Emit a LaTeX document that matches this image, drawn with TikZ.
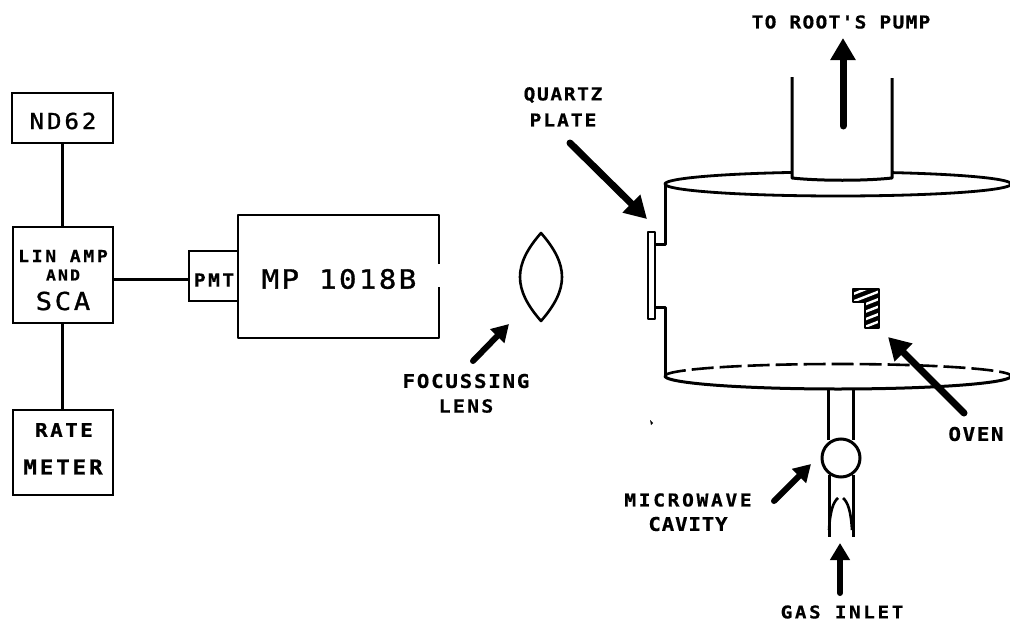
\documentclass[tikz,border=0pt]{standalone}
\usepackage{fontspec}
\usetikzlibrary{arrows.meta}
\newfontfamily\plotb[FakeStretch=1.1,FakeBold=0.6]{DejaVu Sans Mono Bold}
\newfontfamily\plotr[FakeStretch=1.1,FakeBold=1.2]{DejaVu Sans Mono}
\newcommand\pb[2]{\plotb\fontsize{#1}{#1}\selectfont\addfontfeatures{LetterSpace=#2}}
\newcommand\pr[2]{\plotr\fontsize{#1}{#1}\selectfont\addfontfeatures{LetterSpace=#2}}
\tikzset{
  line/.style={line width=2.6pt,line join=round,black},
  wire/.style={line width=3pt,black},
  blockbox/.style={draw,line width=2.6pt,inner sep=0pt,outer sep=0pt,rectangle,anchor=north west},
  txt/.style={inner sep=0pt,outer sep=0pt,black,anchor=center},
  bigarrow/.style={line width=7pt,black,line cap=round,-{Triangle[length=22pt,width=24pt]}},
  midarrow/.style={line width=6pt,black,line cap=round,-{Triangle[length=17pt,width=19pt]}},
}
\begin{document}
\begin{tikzpicture}[x=1pt,y=-1pt]
\useasboundingbox (0,0) rectangle (1010,621);
% electronics boxes
\node[blockbox,minimum width=101pt,minimum height=50pt] (nd) at (12,93) {};
\node[blockbox,minimum width=100pt,minimum height=96pt] (amp) at (13,227) {};
\node[blockbox,minimum width=100pt,minimum height=85pt] (rate) at (13,410) {};
\node[blockbox,minimum width=49pt,minimum height=50pt] (pmt) at (189,251) {};
\coordinate (ndb) at (62,143);
\coordinate (ampt) at (62,227);
\coordinate (ampb) at (62,323);
\coordinate (ratet) at (62,410);
\coordinate (ampr) at (113,279);
\coordinate (pmtl) at (189,279);
\draw[wire] (ndb) -- (ampt);
\draw[wire] (ampb) -- (ratet);
\draw[wire] (ampr) -- (pmtl);
\node[txt,font=\pr{22}{13}] (ndt) at (63,121) {ND62};
\node[txt,font=\pb{16.5}{16}] (lin) at (63,256) {LIN AMP};
\node[txt,font=\pb{15}{14}] (and) at (63,275) {AND};
\node[txt,font=\pr{24.7}{11}] (sca) at (63,301) {SCA};
\node[txt,font=\pb{18}{13}] (pmtt) at (214,280) {PMT};
\node[txt,font=\pb{19}{13}] (ratea) at (64,430) {RATE};
\node[txt,font=\pb{20.5}{14}] (rateb) at (63,467) {METER};
% monochromator
\draw[line] (439,264) -- (439,215) -- (238,215) -- (238,338) -- (439,338) -- (439,287);
\node[txt,font=\pr{26.5}{9}] (mp) at (339,279) {MP 1018B};
% lens
\draw[line] (541,233) .. controls (513,265) and (513,289) .. (541,321)
            .. controls (569,289) and (569,265) .. (541,233) -- cycle;
% quartz plate
\draw[line] (648,232) rectangle (655,319);
% chamber
\draw[line,line width=3pt] (655,244) -- (665,244) -- (665,184);
\draw[line,line width=3pt] (655,307) -- (665,307) -- (665,376);
\draw[line,line width=2.8pt] plot[domain=180:360,samples=80] ({838+173*cos(\x)},{184-12*sin(\x)});
\draw[line,line width=2.8pt] plot[domain=105.5:180,samples=40] ({838+173*cos(\x)},{184-12*sin(\x)});
\draw[line,line width=2.8pt] plot[domain=0:71.7,samples=40] ({838+173*cos(\x)},{184-12*sin(\x)});
\draw[line,line width=3pt] plot[domain=180:360,samples=80] ({838+173*cos(\x)},{376-13*sin(\x)});
\draw[line,line width=2.6pt,dash pattern=on 22pt off 6pt] plot[domain=180:0,samples=80] ({838+173*cos(\x)},{376-12*sin(\x)});
% pump tube
\draw[line,line width=3pt] (792,77) -- (792,178) .. controls (820,181) and (865,181) .. (892,178) -- (892,78);
% gas tube
\draw[line,line width=3pt] (828,389) -- (828,440);
\draw[line,line width=3pt] (853,389) -- (853,440);
\draw[line,line width=3pt] (829,475) -- (829,537);
\draw[line,line width=3pt] (853,475) -- (853,537);
\draw[line] (829,530) .. controls (830,512) and (833,502) .. (838,498);
\draw[line] (852,530) .. controls (851,512) and (848,502) .. (843,498);
\node[draw,circle,line width=3pt,minimum size=38pt,inner sep=0pt,fill=white] (cav) at (841,458) {};
% oven
\begin{scope}
  \clip (853,289) -- (879,289) -- (879,328) -- (865,328) -- (865,302) -- (853,302) -- cycle;
  \fill[black] (850,285) rectangle (882,332);
  \foreach \k in {0,7.5,...,45} {
    \draw[white,line width=2.4pt] (848,{302+\k-6}) -- (884,{302+\k-6-14});
  }
\end{scope}
\draw[line,line width=2pt] (853,289) -- (879,289) -- (879,328) -- (865,328) -- (865,302) -- (853,302) -- cycle;
% arrows
\coordinate (pa) at (843,126); \coordinate (pb) at (843,38);
\draw[bigarrow] (pa) -- (pb);
\coordinate (qa) at (570,143); \coordinate (qb) at (647,219);
\draw[bigarrow] (qa) -- (qb);
\coordinate (oa) at (964,413); \coordinate (ob) at (888,337);
\draw[bigarrow] (oa) -- (ob);
\coordinate (la) at (473,361); \coordinate (lb) at (509,324);
\draw[midarrow] (la) -- (lb);
\coordinate (ma) at (774,501); \coordinate (mb) at (811,464);
\draw[midarrow] (ma) -- (mb);
\coordinate (ga) at (840,593); \coordinate (gb) at (840,543);
\draw[midarrow] (ga) -- (gb);
% speck
\fill[black] (650,420) -- (653,423) -- (651,425) -- cycle;
% labels
\node[txt,font=\pb{17.8}{7}] (t1) at (841,22) {TO ROOT'S PUMP};
\node[txt,font=\pb{17.8}{9}] (t2) at (563,95) {QUARTZ};
\node[txt,font=\pb{17.8}{11}] (t3) at (563,120) {PLATE};
\node[txt,font=\pb{19}{9}] (t4) at (466,381) {FOCUSSING};
\node[txt,font=\pb{18}{13}] (t5) at (466,406) {LENS};
\node[txt,font=\pb{17.8}{15}] (t6) at (688,500) {MICROWAVE};
\node[txt,font=\pb{19}{4}] (t7) at (688,524) {CAVITY};
\node[txt,font=\pb{19}{8.5}] (t8) at (976,434) {OVEN};
\node[txt,font=\pb{17.5}{15}] (t9) at (842,612) {GAS INLET};
\end{tikzpicture}
\end{document}
